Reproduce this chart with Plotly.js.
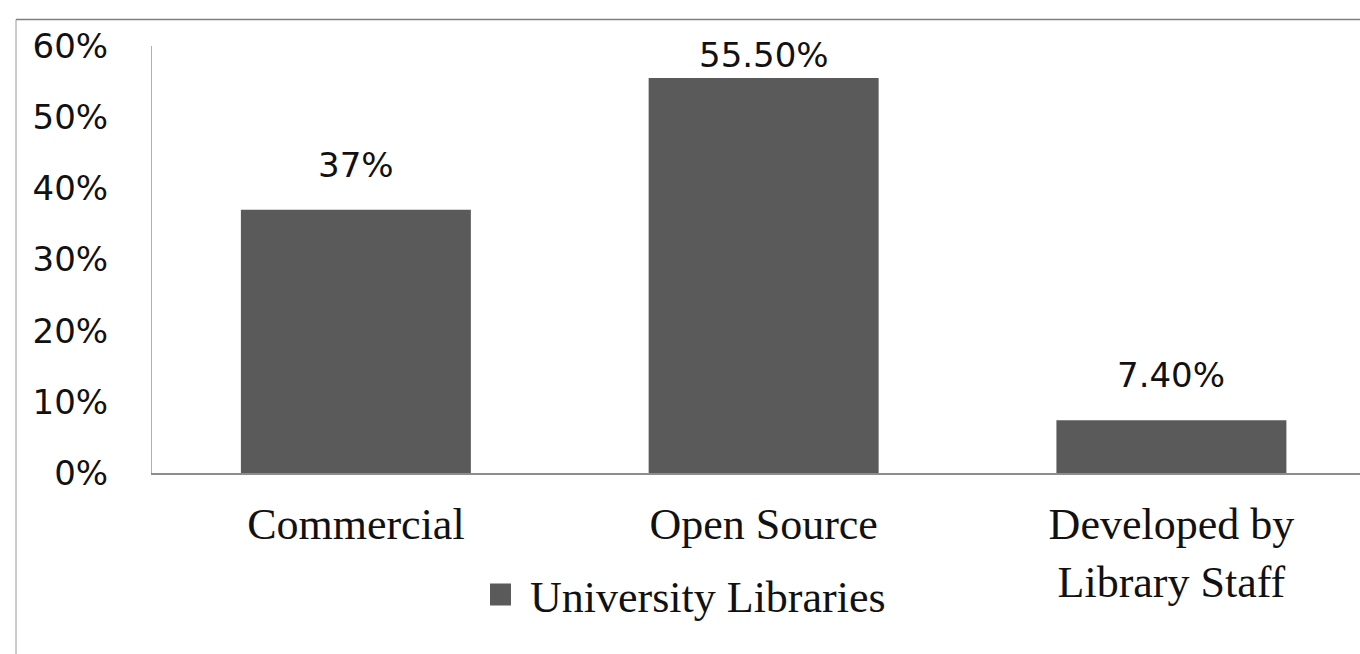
<!DOCTYPE html>
<html>
<head>
<meta charset="utf-8">
<script src="https://cdn.plot.ly/plotly-3.0.1.min.js"></script>
<style>
  html, body { margin: 0; padding: 0; background: #ffffff; }
  #chart { width: 1360px; height: 654px; }
</style>
</head>
<body>
<div id="chart"></div>
<script>
// ---- data ----
const categories = ["Commercial", "Open Source", "Developed by<br>Library Staff"];
const values = [0.37, 0.555, 0.074];
const valueLabels = ["37%", "55.50%", "7.40%"];
const seriesName = "University Libraries";
const yTickVals = [0, 0.1, 0.2, 0.3, 0.4, 0.5, 0.6];

// ---- layout constants ----
const W = 1360, H = 654;
const M = { l: 152, r: 0, t: 46, b: 181 };
const plotW = W - M.l - M.r, plotH = H - M.t - M.b;
const yMax = 0.6;
const pxPerUnit = plotH / yMax;
const px2paperX = p => (p - M.l) / plotW;
const px2paperY = p => (H - M.b - p) / plotH;

const barColor = "#5a5a5a";
const sansFont = "DejaVu Sans, Open Sans, sans-serif";
const serifFont = "Liberation Serif, Times New Roman, serif";

// value labels above bars, clamped at the top of the plot like the original
const annotations = categories.map((c, i) => {
  const avail = (yMax - values[i]) * pxPerUnit;
  return {
    x: c, y: values[i], xref: "x", yref: "y",
    text: valueLabels[i], showarrow: false,
    yanchor: "bottom", yshift: Math.min(23, avail - 31),
    font: { family: sansFont, size: 34, color: "#111" }
  };
});

const trace = {
  type: "bar",
  x: categories,
  y: values,
  name: seriesName,
  width: 0.564,
  marker: { color: barColor, line: { width: 0 } },
  hoverinfo: "x+y",
  showlegend: true
};

const layout = {
  width: W, height: H,
  margin: M,
  paper_bgcolor: "#ffffff",
  plot_bgcolor: "#ffffff",
  showlegend: true,
  bargap: 0.4,
  xaxis: {
    type: "category",
    range: [-0.5, 2.4625],
    showgrid: false, zeroline: false,
    showline: true, linecolor: "#8c8c8c", linewidth: 1.5,
    ticks: "", ticklabelstandoff: 12,
    tickfont: { family: serifFont, size: 44, color: "#111" }
  },
  yaxis: {
    range: [0, yMax],
    tickvals: yTickVals,
    tickformat: ".0%",
    showgrid: false, zeroline: false,
    showline: true, linecolor: "#b0b0b0", linewidth: 1,
    ticks: "", ticklabelstandoff: 36,
    tickfont: { family: sansFont, size: 34, color: "#111" }
  },
  legend: {
    orientation: "h",
    x: px2paperX(490), xanchor: "left",
    y: px2paperY(595), yanchor: "middle",
    font: { family: serifFont, size: 44, color: "#111" },
    bgcolor: "rgba(0,0,0,0)"
  },
  annotations: annotations,
  shapes: [
    { type: "line", xref: "paper", yref: "paper",
      x0: px2paperX(16), x1: px2paperX(1362), y0: px2paperY(19.5), y1: px2paperY(19.5),
      line: { color: "#7f7f7f", width: 1.5 } },
    { type: "line", xref: "paper", yref: "paper",
      x0: px2paperX(16), x1: px2paperX(16), y0: px2paperY(19.5), y1: px2paperY(656),
      line: { color: "#9a9a9a", width: 1 } }
  ]
};

Plotly.newPlot("chart", [trace], layout, { displayModeBar: false, staticPlot: true }).then(() => {
  // enlarge the legend swatch to match the original's bigger square
  document.querySelectorAll(".legendpoints path").forEach(p => {
    p.setAttribute("d", "M1,11H-21V-11H1Z");
  });
});
</script>
</body>
</html>
